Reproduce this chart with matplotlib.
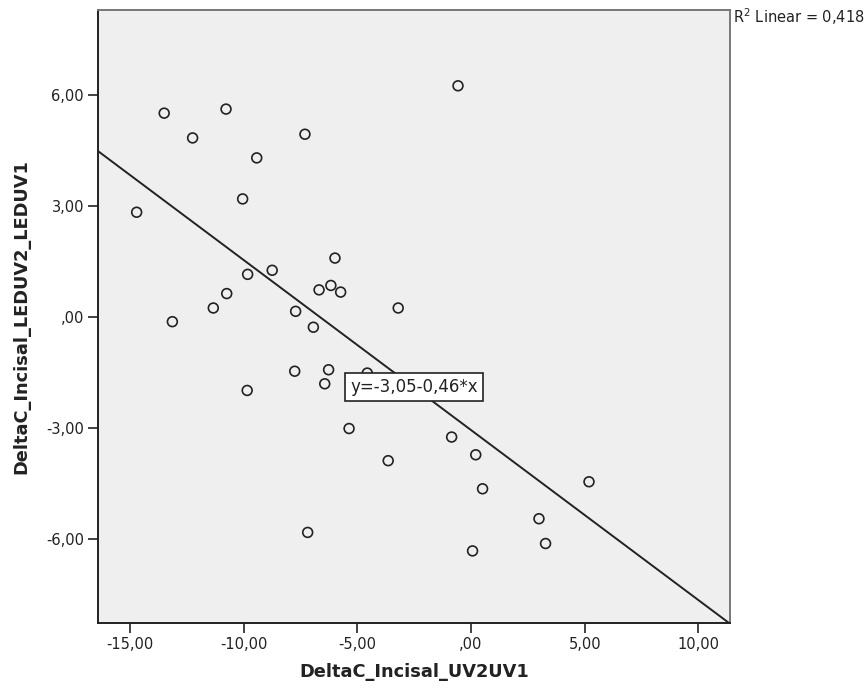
import numpy as np
import matplotlib
matplotlib.use("Agg")
import matplotlib.pyplot as plt
from matplotlib.ticker import FuncFormatter

# ============================
# DATOS
# ============================
delta_uv = [-14.70, -13.49, -13.13, -12.24, -11.33, -10.77, -10.74, -10.04,
            -9.82, -9.84, -9.42, -8.74, -7.71, -7.75, -7.30, -7.18, -6.93,
            -6.68, -6.43, -6.26, -6.16, -5.98, -5.73, -5.36, -4.56, -3.20,
            -3.64, -0.85, -0.57, 0.21, 0.51, 0.07, 2.99, 3.28, 5.19]
delta_led = [2.84, 5.52, -0.12, 4.85, 0.25, 5.63, 0.64, 3.20,
             1.16, -1.98, 4.31, 1.27, 0.16, -1.46, 4.95, -5.82, -0.27,
             0.74, -1.80, -1.42, 0.86, 1.60, 0.68, -3.01, -1.51, 0.25,
             -3.88, -3.24, 6.26, -3.72, -4.64, -6.32, -5.45, -6.12, -4.45]

intercept = -3.05
slope = -0.46
r2 = 0.418

x_ticks = [-15, -10, -5, 0, 5, 10]
y_ticks = [-6, -3, 0, 3, 6]
x_lim = (-16.4, 11.39)
y_lim = (-8.27, 8.31)


def coma(v, pos=None):
    s = f"{v:.2f}".replace(".", ",")
    if s.startswith("0,"):
        s = s[1:]
    return s


# ============================
# GRÁFICO
# ============================
fig = plt.figure(figsize=(8.68, 6.89), dpi=100)
ax = fig.add_axes([98 / 868, 66 / 689, 632 / 868, 613 / 689])
ax.set_facecolor("#efefef")

ax.scatter(delta_uv, delta_led, s=50, facecolors="none", edgecolors="#222222",
           linewidths=1.2, zorder=3)

xl = np.array(x_lim)
ax.plot(xl, intercept + slope * xl, color="#222222", lw=1.4, zorder=2)

ax.set_xlim(*x_lim)
ax.set_ylim(*y_lim)
ax.set_xticks(x_ticks)
ax.set_yticks(y_ticks)
ax.xaxis.set_major_formatter(FuncFormatter(coma))
ax.yaxis.set_major_formatter(FuncFormatter(coma))
ax.tick_params(length=7, width=1.2, labelsize=10.5, colors="#222222", pad=3)

for s in ["left", "bottom"]:
    ax.spines[s].set_color("#222222")
    ax.spines[s].set_linewidth(1.4)
for s in ["top", "right"]:
    ax.spines[s].set_color("#777777")
    ax.spines[s].set_linewidth(1.4)

ax.set_xlabel("DeltaC_Incisal_UV2UV1", fontsize=12.8, fontweight="bold",
              color="#222222")
ax.set_ylabel("DeltaC_Incisal_LEDUV2_LEDUV1", fontsize=12.8, fontweight="bold",
              color="#222222")
ax.xaxis.set_label_coords(0.5, -0.08)
ax.yaxis.set_label_coords(-0.121, 0.5)
ax.xaxis.label.set_va("center")
ax.yaxis.label.set_va("center")

ax.text(-2.51, -1.88, "y=-3,05-0,46*x", fontsize=12, ha="center", va="center",
        color="#222222", zorder=4,
        bbox=dict(boxstyle="square,pad=0.3", fc="white", ec="#222222", lw=1.2))

fig.text(733 / 868, 1 - 17 / 689, "R$^2$ Linear = 0,418", fontsize=10.5,
         ha="left", va="center", color="#222222")

plt.savefig("out.png", dpi=100)
